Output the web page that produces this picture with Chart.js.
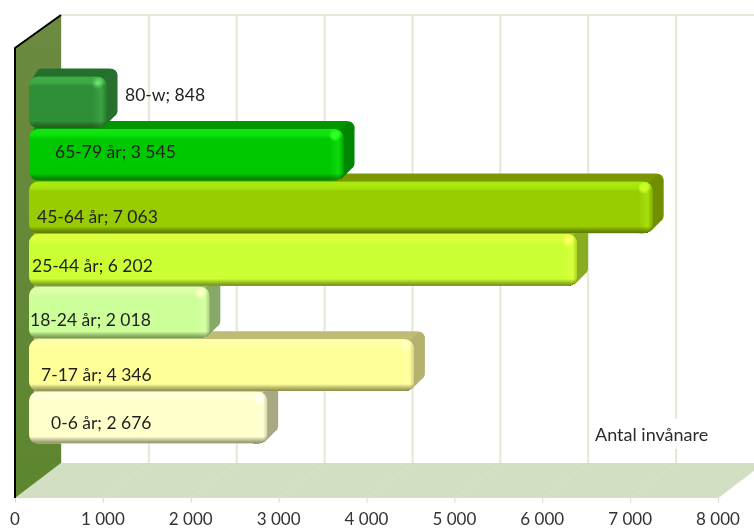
<!DOCTYPE html>
<html>
<head>
<meta charset="utf-8">
<title>Antal invånare</title>
<script src="https://cdn.jsdelivr.net/npm/chart.js@4"></script>
<style>
html, body { margin: 0; padding: 0; background: #fff; overflow: hidden; }
canvas { display: block; }
</style>
</head>
<body>
<canvas id="chart" width="754" height="528"></canvas>
<script>
// data, bottom bar first so the upper bars are painted over the lower ones
const ageGroups = ['0-6 år', '7-17 år', '18-24 år', '25-44 år', '45-64 år', '65-79 år', '80-w'];
const population = [2676, 4346, 2018, 6202, 7063, 3545, 848];
const tickLabels = ['0', '1 000', '2 000', '3 000', '4 000', '5 000', '6 000', '7 000', '8 000'];
const axisName = 'Antal invånare';

// bar colours: front, top, side
const frontColors = ['#ffffcc', '#ffff99', '#ccff99', '#ccff33', '#99cc00', '#00c800', '#2f8f38'];
const topColors = ['#c4c49a', '#bfbd75', '#9fbf7c', '#9fc428', '#7a9900', '#009600', '#236f2c'];
const sideColors = ['#a8a885', '#b3b26e', '#86a868', '#8aac20', '#6f8f00', '#008600', '#27702d'];

// hand placed data labels, same order as the bars
const labelLeft = [51, 41, 30, 32, 37, 55, 125];
const labelShift = [6, 10, 8, 6, 10, -2, -7];

const FONT = 'Lato, "Open Sans", sans-serif';
const DEPTH_X = 46;
const BAR_IN = 17, BAR_DX = 11, BAR_DY = 8, BAR_R = 9;

// bar with top and side faces, drawn around the normal bar element
class Bar3D extends Chart.BarElement {
    static id = 'bar3d';

    draw(ctx) {
        const { x, y, base, height } = this.getProps(['x', 'y', 'base', 'height']);
        const i = this.$context.dataIndex;
        const L = base + BAR_IN, R = x + BAR_IN, T = y - height / 2, B = y + height / 2;
        const RX = R + BAR_DX, TY = T - BAR_DY, BY = B - BAR_DY - 6;

        ctx.save();
        // top face
        ctx.fillStyle = topColors[i];
        ctx.beginPath();
        ctx.moveTo(L + 1, T + 6);
        ctx.lineTo(L + 9, TY + 1);
        ctx.quadraticCurveTo(L + 11, TY, L + 14, TY);
        ctx.lineTo(RX - 8, TY);
        ctx.quadraticCurveTo(RX, TY, RX, TY + 8);
        ctx.lineTo(R, T + 10);
        ctx.closePath();
        ctx.fill();
        // side face
        ctx.fillStyle = sideColors[i];
        ctx.beginPath();
        ctx.moveTo(R - 5, T + 2);
        ctx.lineTo(RX - 6, TY + 1);
        ctx.quadraticCurveTo(RX, TY + 1, RX, TY + 9);
        ctx.lineTo(RX, BY - 4);
        ctx.quadraticCurveTo(RX, BY, RX - 3, BY + 2);
        ctx.lineTo(R - 3, B - 1);
        ctx.closePath();
        ctx.fill();
        ctx.restore();

        // front face comes from the library
        ctx.save();
        ctx.translate(BAR_IN, 0);
        super.draw(ctx);
        ctx.restore();

        // bevels on the front face, added light keeps the colour saturated
        ctx.save();
        ctx.beginPath();
        ctx.roundRect(L, T, R - L, height, BAR_R);
        ctx.clip();
        ctx.globalCompositeOperation = 'lighter';
        let g = ctx.createLinearGradient(0, T, 0, T + 10);
        g.addColorStop(0, 'rgb(18,30,16)');
        g.addColorStop(0.6, 'rgb(14,26,12)');
        g.addColorStop(1, 'rgb(0,0,0)');
        ctx.fillStyle = g;
        ctx.fillRect(L, T, R - L, 10);
        g = ctx.createLinearGradient(R - 14, 0, R, 0);
        g.addColorStop(0, 'rgb(0,0,0)');
        g.addColorStop(0.6, 'rgb(12,18,10)');
        g.addColorStop(1, 'rgb(0,0,0)');
        ctx.fillStyle = g;
        ctx.fillRect(R - 14, T, 14, height);
        g = ctx.createRadialGradient(R - 9, T + 7, 0, R - 9, T + 7, 6);
        g.addColorStop(0, 'rgb(50,60,40)');
        g.addColorStop(1, 'rgb(0,0,0)');
        ctx.fillStyle = g;
        ctx.fillRect(R - 15, T + 1, 12, 12);
        ctx.globalCompositeOperation = 'source-over';
        g = ctx.createLinearGradient(0, B - 7, 0, B);
        g.addColorStop(0, 'rgba(0,0,0,0)');
        g.addColorStop(1, 'rgba(40,50,0,0.55)');
        ctx.fillStyle = g;
        ctx.fillRect(L, B - 7, R - L, 7);
        g = ctx.createLinearGradient(R - 4, 0, R, 0);
        g.addColorStop(0, 'rgba(0,0,0,0)');
        g.addColorStop(1, 'rgba(40,50,0,0.2)');
        ctx.fillStyle = g;
        ctx.fillRect(R - 4, T, 4, height);
        ctx.restore();
    }
}

class Bar3DController extends Chart.BarController {
    static id = 'bar3d';
    static defaults = { ...Chart.BarController.defaults, dataElementType: 'bar3d' };
}
Chart.register(Bar3D, Bar3DController);

// walls, floor and grid behind the bars
const wallsPlugin = {
    id: 'walls',
    beforeDatasetsDraw(chart) {
        const { ctx } = chart;
        const xs = chart.scales.x;
        const x0 = xs.getPixelForValue(0);
        const frontTop = 48, frontBottom = 498, backTop = 15, backBottom = 463;

        ctx.save();
        // floor
        ctx.fillStyle = '#d3dfc2';
        ctx.beginPath();
        ctx.moveTo(x0, frontBottom);
        ctx.lineTo(x0 + DEPTH_X, backBottom);
        ctx.lineTo(xs.getPixelForValue(8000) + DEPTH_X, backBottom);
        ctx.lineTo(xs.getPixelForValue(8000), frontBottom);
        ctx.closePath();
        ctx.fill();

        // back wall grid and floor grid
        xs.ticks.forEach((tick) => {
            const px = xs.getPixelForValue(tick.value);
            ctx.strokeStyle = '#e3e9d3';
            ctx.lineWidth = 2;
            ctx.beginPath();
            ctx.moveTo(px + DEPTH_X, backTop);
            ctx.lineTo(px + DEPTH_X, backBottom);
            ctx.stroke();
            ctx.strokeStyle = '#dbe5c6';
            ctx.lineWidth = 1;
            ctx.beginPath();
            ctx.moveTo(px + DEPTH_X, backBottom);
            ctx.lineTo(px, frontBottom);
            ctx.stroke();
            // tick mark under the floor
            ctx.strokeStyle = '#d9d9d9';
            ctx.beginPath();
            ctx.moveTo(px + 0.5, frontBottom);
            ctx.lineTo(px + 0.5, frontBottom + 5);
            ctx.stroke();
        });
        ctx.strokeStyle = '#e3e9d3';
        ctx.lineWidth = 2;
        ctx.beginPath();
        ctx.moveTo(x0 + DEPTH_X, backTop);
        ctx.lineTo(760, backTop);
        ctx.stroke();

        // axis name sits on the wall with a white box behind it
        ctx.fillStyle = '#fff';
        ctx.fillRect(593, 419, 118, 30);
        ctx.font = '18px ' + FONT;
        ctx.fillStyle = '#2b2b2b';
        ctx.textBaseline = 'middle';
        ctx.fillText(axisName, 595, 435);

        // left wall
        const wall = ctx.createLinearGradient(0, backTop, 0, frontBottom);
        wall.addColorStop(0, '#6c8a40');
        wall.addColorStop(1, '#5d862f');
        ctx.fillStyle = wall;
        ctx.beginPath();
        ctx.moveTo(x0, frontTop);
        ctx.lineTo(x0 + DEPTH_X, backTop);
        ctx.lineTo(x0 + DEPTH_X, backBottom);
        ctx.lineTo(x0, frontBottom);
        ctx.closePath();
        ctx.fill();

        ctx.strokeStyle = '#000';
        ctx.lineWidth = 2;
        ctx.beginPath();
        ctx.moveTo(x0 + DEPTH_X, backTop);
        ctx.lineTo(x0, frontTop);
        ctx.lineTo(x0, frontBottom);
        ctx.stroke();
        ctx.restore();
    },
    afterDatasetsDraw(chart) {
        const { ctx } = chart;
        const bars = chart.getDatasetMeta(0).data;
        ctx.save();
        ctx.font = '17.5px ' + FONT;
        ctx.textBaseline = 'middle';
        ctx.fillStyle = '#1f1f1f';
        bars.forEach((bar, i) => {
            const value = String(population[i]).replace(/\B(?=(\d{3})+$)/g, ' ');
            ctx.fillText(ageGroups[i] + '; ' + value, labelLeft[i], bar.y + labelShift[i]);
        });
        ctx.restore();
    }
};

new Chart(document.getElementById('chart'), {
    type: 'bar3d',
    data: {
        labels: ageGroups,
        datasets: [{
            data: population,
            base: -34,  // front face starts a little ahead of the wall
            backgroundColor: frontColors,
            borderWidth: 0,
            borderRadius: BAR_R,
            borderSkipped: false,
            categoryPercentage: 1,
            barPercentage: 0.985,
            clip: false
        }]
    },
    options: {
        indexAxis: 'y',
        responsive: false,
        animation: false,
        layout: { padding: { left: 15, right: 36, top: 76, bottom: 0 } },
        plugins: { legend: { display: false }, tooltip: { enabled: false }, title: { display: false } },
        scales: {
            x: {
                min: 0,
                max: 8000,
                grid: { display: false },
                border: { display: false },
                afterFit(scale) {
                    // ticks hang far below the bars, keep the layout from reserving side room for that
                    scale.height = 84;
                    scale.paddingLeft = 0;
                    scale.paddingRight = 0;
                },
                ticks: {
                    stepSize: 1000,
                    padding: 57,
                    maxRotation: 0,
                    autoSkip: false,
                    color: '#333',
                    font: { family: FONT, size: 17 },
                    callback: (value, i) => tickLabels[i]
                }
            },
            y: { display: false, reverse: true }
        }
    },
    plugins: [wallsPlugin]
});
</script>
</body>
</html>
